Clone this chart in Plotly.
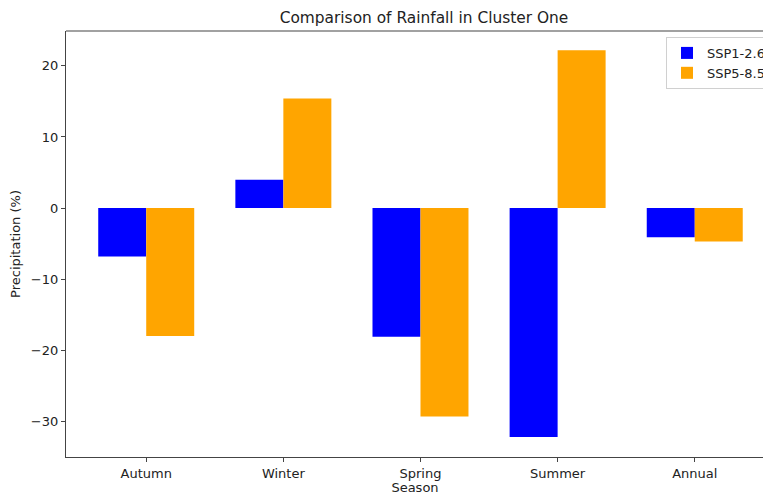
import plotly.graph_objects as go

seasons = ["Autumn", "Winter", "Spring", "Summer", "Annual"]
ssp126 = [-6.8, 4.0, -18.1, -32.2, -4.1]
ssp585 = [-18.0, 15.4, -29.3, 22.2, -4.7]
y_ticks = [-30, -20, -10, 0, 10, 20]
y_tick_labels = ["\u221230", "\u221220", "\u221210", "0", "10", "20"]

x_idx = list(range(len(seasons)))

W, H = 763, 487  # page body has an 8px default margin

fig = go.Figure()
fig.add_trace(go.Bar(x=x_idx, y=ssp126, name="SSP1-2.6", marker=dict(color="#0000ff", line=dict(width=0))))
fig.add_trace(go.Bar(x=x_idx, y=ssp585, name="SSP5-8.5", marker=dict(color="#ffa500", line=dict(width=0))))

font = dict(family="DejaVu Sans", size=13, color="#222")
fig.update_layout(
    width=W, height=H,
    margin=dict(l=58, r=0, t=23, b=38),
    paper_bgcolor="white", plot_bgcolor="white",
    barmode="group", bargap=0.3, bargroupgap=0,
    font=font,
    title=dict(text="Comparison of Rainfall in Cluster One", x=416 / W, xref="container", xanchor="center",
               y=1 - 10 / H, yref="container", yanchor="middle",
               font=dict(family="DejaVu Sans", size=15.4, color="#222")),
    legend=dict(x=0.86, y=0.986, xanchor="left", yanchor="top", bgcolor="white",
                bordercolor="#d0d0d0", borderwidth=1, font=dict(family="DejaVu Sans", size=13, color="#222"),
                itemwidth=30, tracegroupgap=0),
    showlegend=True,
)
fig.update_xaxes(
    range=[-0.585, 4.505], tickmode="array", tickvals=x_idx, ticktext=seasons,
    showgrid=False, zeroline=False, showline=True, linecolor="#444", linewidth=1.2,
    ticks="outside", ticklen=4, tickcolor="#444",
    title=dict(text="Season", standoff=2, font=dict(family="DejaVu Sans", size=13, color="#222")),
)
fig.update_yaxes(
    range=[-35.0, 24.9], tickmode="array", tickvals=y_ticks, ticktext=y_tick_labels,
    showgrid=False, zeroline=False, showline=True, linecolor="#444", linewidth=1.2,
    ticks="outside", ticklen=4, tickcolor="#444",
    title=dict(text="Precipitation (%)", standoff=8, font=dict(family="DejaVu Sans", size=13, color="#222")),
)
fig.add_shape(type="line", xref="paper", yref="paper", x0=0, x1=1, y0=1, y1=1,
              line=dict(color="#444", width=1.2))
fig.write_html("out.html")
